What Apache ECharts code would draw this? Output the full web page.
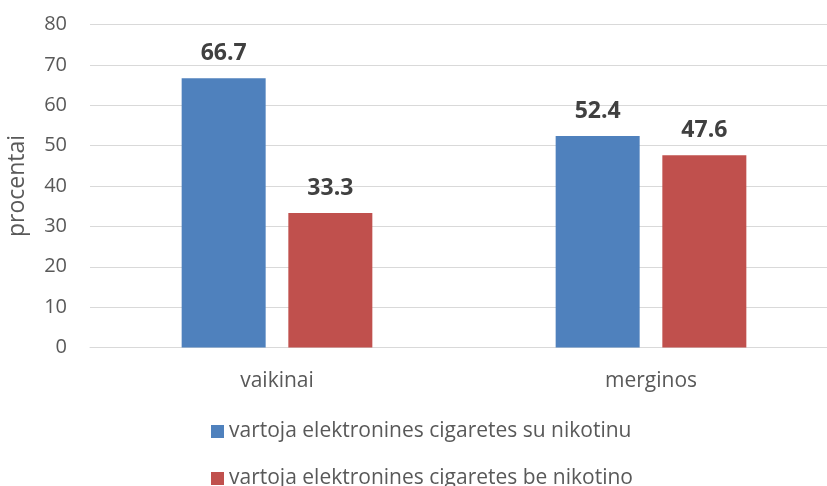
<!DOCTYPE html>
<html>
<head>
<meta charset="utf-8">
<script src="https://cdn.jsdelivr.net/npm/echarts@6/dist/echarts.min.js"></script>
<style>html,body{margin:0;padding:0;background:#fff;overflow:hidden;}#c{width:827px;height:486px;}</style>
</head>
<body>
<div id="c"></div>
<script>
const categories = ['vaikinai', 'merginos'];
const seriesNames = ['vartoja elektronines cigaretes su nikotinu', 'vartoja elektronines cigaretes be nikotino'];
const withNicotine = [66.7, 52.4];
const withoutNicotine = [33.3, 47.6];
const yTicks = [0, 10, 20, 30, 40, 50, 60, 70, 80];

const FONT = 'Open Sans';
const chart = echarts.init(document.getElementById('c'), null, {renderer: 'canvas'});
const labelOpt = {
  show: true, position: 'top', distance: 13,
  fontFamily: FONT, fontWeight: 'bold', fontSize: 23, color: '#404040',
  formatter: p => p.value.toFixed(1)
};
const legendText = {fontFamily: FONT, fontSize: 21, color: '#595959'};
chart.setOption({
  animation: false,
  backgroundColor: '#ffffff',
  grid: {left: 90, top: 24.5, width: 748, height: 323, containLabel: false, outerBoundsMode: 'none'},
  legend: [
    {orient: 'horizontal', left: 206, top: 416, itemWidth: 13, itemHeight: 13, icon: 'rect',
     textStyle: legendText, data: [seriesNames[0]]},
    {orient: 'horizontal', left: 206, top: 463, itemWidth: 13, itemHeight: 13, icon: 'rect',
     textStyle: legendText, data: [seriesNames[1]]}
  ],
  xAxis: {
    type: 'category', data: categories,
    axisLine: {show: true, lineStyle: {color: '#d9d9d9', width: 1}},
    axisTick: {show: false},
    axisLabel: {fontFamily: FONT, fontSize: 21, color: '#595959', margin: 23}
  },
  yAxis: {
    type: 'value', min: yTicks[0], max: yTicks[yTicks.length - 1], interval: 10,
    name: 'procentai', nameLocation: 'middle', nameGap: 61,
    nameTextStyle: {fontFamily: FONT, fontSize: 23, color: '#595959'},
    axisLine: {show: false}, axisTick: {show: false},
    axisLabel: {fontFamily: FONT, fontSize: 20, color: '#595959', margin: 23},
    splitLine: {lineStyle: {color: '#d9d9d9', width: 1}}
  },
  series: [
    {name: seriesNames[0], type: 'bar', data: withNicotine, barWidth: 84, barGap: '27%',
     itemStyle: {color: '#4f81bd'}, label: labelOpt},
    {name: seriesNames[1], type: 'bar', data: withoutNicotine, barWidth: 84,
     itemStyle: {color: '#c0504d'}, label: labelOpt}
  ]
});
</script>
</body>
</html>
